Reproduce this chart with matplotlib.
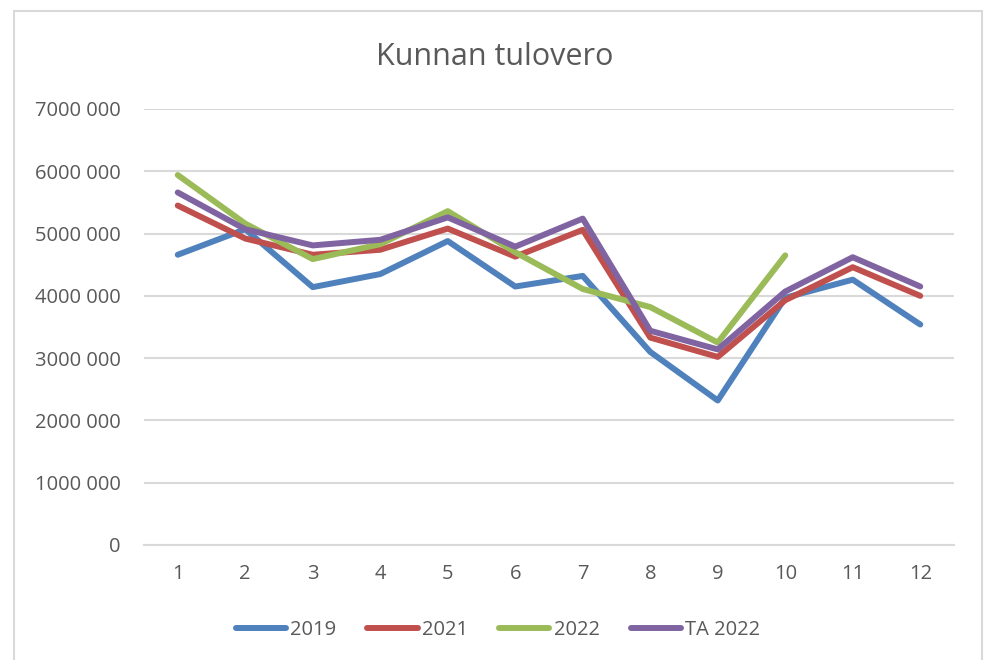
import matplotlib
matplotlib.use("Agg")
import matplotlib.pyplot as plt
from matplotlib.patches import Rectangle

# monthly values, millions of euros
months = list(range(1, 13))
v2019 = [4.66, 5.07, 4.14, 4.35, 4.88, 4.15, 4.32, 3.10, 2.32, 3.97, 4.26, 3.54]
v2021 = [5.45, 4.92, 4.66, 4.74, 5.08, 4.63, 5.06, 3.33, 3.02, 3.93, 4.46, 4.00]
v2022 = [5.94, 5.16, 4.59, 4.83, 5.36, 4.70, 4.11, 3.82, 3.25, 4.65]
vta2022 = [5.66, 5.07, 4.81, 4.90, 5.26, 4.79, 5.24, 3.44, 3.14, 4.07, 4.62, 4.15]

series_names = ["2019", "2021", "2022", "TA 2022"]
colors = ["#4F81BD", "#C0504D", "#9BBB59", "#8064A2"]

yticks = [0, 1, 2, 3, 4, 5, 6, 7]
ytick_labels = ["0", "1000 000", "2000 000", "3000 000", "4000 000",
                "5000 000", "6000 000", "7000 000"]

text_color = "#595959"
plt.rcParams["font.family"] = ["Open Sans", "DejaVu Sans"]

fig = plt.figure(figsize=(9.89, 6.6), dpi=100)
fig.patch.set_facecolor("white")

# light frame around the chart
fig.patches.append(Rectangle((14 / 989, -0.02), (982 - 14) / 989, 1.02 - 11 / 660,
                             transform=fig.transFigure, fill=False,
                             edgecolor="#D9D9D9", linewidth=1.5))

ax = fig.add_axes([144 / 989, 115 / 660, 810 / 989, 436 / 660])

for name, vals, c in zip(series_names, [v2019, v2021, v2022, vta2022], colors):
    ax.plot(months[:len(vals)], vals, color=c, linewidth=4.3,
            solid_capstyle="round", solid_joinstyle="round", label=name)

ax.set_xlim(0.5, 12.5)
ax.set_ylim(0, 7)
ax.set_xticks(months)
ax.set_xticklabels([str(m) for m in months])
ax.set_yticks(yticks)
ax.set_yticklabels(ytick_labels)
ax.tick_params(axis="both", length=0, labelsize=14.5, colors=text_color)
ax.tick_params(axis="y", pad=17)
ax.tick_params(axis="x", pad=14)

ax.grid(axis="y", color="#D9D9D9", linewidth=1.5)
ax.set_axisbelow(True)
for side in ["top", "right", "left"]:
    ax.spines[side].set_visible(False)
ax.spines["bottom"].set_color("#D9D9D9")
ax.spines["bottom"].set_linewidth(1.5)

fig.text(0.5, 1 - 57 / 660, "Kunnan tulovero", ha="center", va="center",
         fontsize=22, color=text_color)

leg = fig.legend(loc="center", bbox_to_anchor=(0.5035, 1 - 630 / 660), ncol=4,
                 frameon=False, fontsize=14.5, handlelength=2.5,
                 handletextpad=0.2, columnspacing=1.55)
for t in leg.get_texts():
    t.set_color(text_color)

fig.savefig("out.png", dpi=100)
